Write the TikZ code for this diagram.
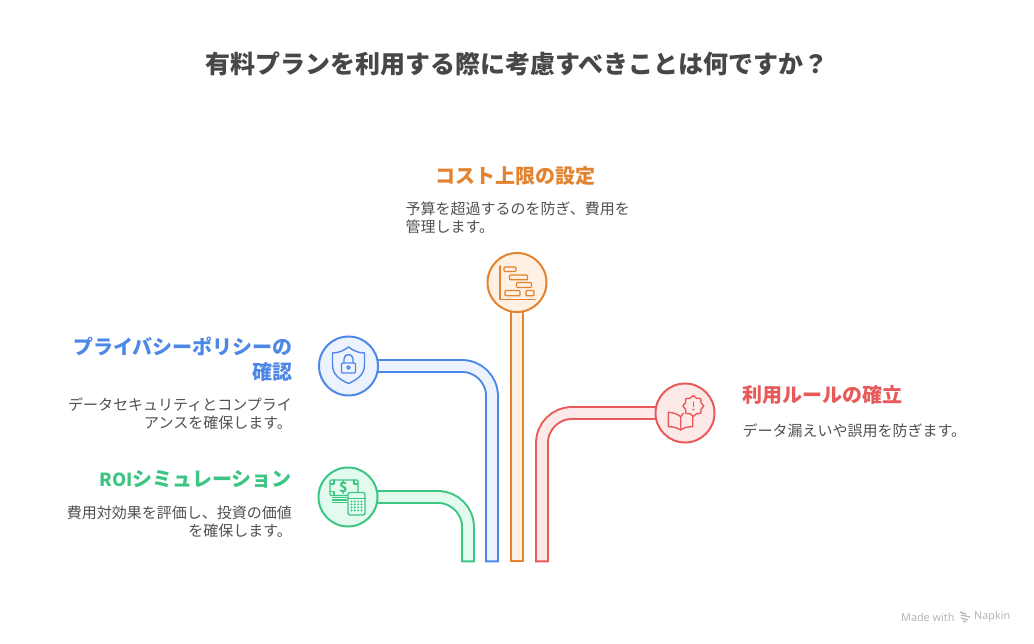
\documentclass[tikz,border=0pt]{standalone}
\usepackage{fontspec}
\setmainfont{Noto Sans CJK JP}
\newfontfamily\footfont{Noto Sans}
\usetikzlibrary{backgrounds,shapes.geometric}
\definecolor{bluefg}{HTML}{4E88E7}
\definecolor{bluebg}{HTML}{EDF3FE}
\definecolor{greenfg}{HTML}{3CC583}
\definecolor{greenbg}{HTML}{E3FBEF}
\definecolor{orangefg}{HTML}{E38330}
\definecolor{orangebg}{HTML}{FEF0E3}
\definecolor{redfg}{HTML}{E85A5A}
\definecolor{redbg}{HTML}{FEE9E9}
\definecolor{titlegray}{HTML}{474747}
\definecolor{bodygray}{HTML}{505050}
\definecolor{footgray}{HTML}{B5B5B5}
\tikzset{
	hub/.style 2 args={circle,draw=#1,fill=#2,line width=2pt,minimum size=59pt,inner sep=0pt},
	pipe/.style 2 args={draw=#1,double=#2,line width=2pt,double distance=9.8pt,line cap=rect,rounded corners=30pt},
	headtext/.style={inner sep=0pt,font=\fontsize{20}{25}\selectfont\bfseries},
	bodytext/.style={inner sep=0pt,text=bodygray,font=\fontsize{15}{18}\selectfont},
	glyph/.style={line width=1.4pt,line join=round,line cap=round}
}
\begin{document}
\begin{tikzpicture}[x=1pt,y=-1pt]
	\useasboundingbox (0,0) rectangle (1034,644);

	\node[inner sep=0pt,text=titlegray,font=\fontsize{25}{30}\selectfont\bfseries] (title) at (517,64) {有料プランを利用する際に考慮すべきことは何ですか？};

	\node[hub={bluefg}{bluebg}] (blueicon) at (348.5,366) {};
	\node[hub={greenfg}{greenbg}] (greenicon) at (348,497) {};
	\node[hub={orangefg}{orangebg}] (orangeicon) at (517,282.5) {};
	\node[hub={redfg}{redbg}] (redicon) at (685,413) {};

	\coordinate (blueend) at (492,555.5);
	\coordinate (greenend) at (468,555.5);
	\coordinate (orangeend) at (517,555.5);
	\coordinate (redend) at (542,555.5);

	\begin{pgfonlayer}{background}
		\draw[pipe={bluefg}{bluebg}] (blueicon) -| (blueend);
		\draw[pipe={greenfg}{greenbg}] (greenicon) -| (greenend);
		\draw[pipe={orangefg}{orangebg}] (orangeicon) -- (orangeend);
		\draw[pipe={redfg}{redbg}] (redicon) -| (redend);
	\end{pgfonlayer}

	\node[headtext,text=orangefg,anchor=center] (orangehead) at (515,176) {コスト上限の設定};
	\node[bodytext,anchor=west,align=left] (orangebody) at (405.5,217.5) {予算を超過するのを防ぎ、費用を\\管理します。};
	\node[headtext,text=bluefg,anchor=east,align=right] (bluehead) at (293,359.5) {プライバシーポリシーの\\確認};
	\node[bodytext,anchor=east,align=right] (bluebody) at (292,413.5) {データセキュリティとコンプライ\\アンスを確保します。};
	\node[headtext,text=greenfg,anchor=east] (greenhead) at (292,479) {{\fontsize{18}{25}\selectfont ROI}シミュレーション};
	\node[bodytext,anchor=east,align=right] (greenbody) at (292,521.5) {費用対効果を評価し、投資の価値\\を確保します。};
	\node[headtext,text=redfg,anchor=west] (redhead) at (742,395) {利用ルールの確立};
	\node[bodytext,anchor=west] (redbody) at (742.5,431) {データ漏えいや誤用を防ぎます。};

	\begin{scope}[shift={(blueicon.center)},draw=bluefg,glyph]
		\draw (-16,-13) .. controls (-9,-13) and (-4,-16) .. (0,-19) .. controls (4,-16) and (9,-13) .. (16,-13) -- (16,-1) .. controls (16,9) and (8,14) .. (0,17.5) .. controls (-8,14) and (-16,9) .. (-16,-1) -- cycle;
		\draw[rounded corners=1pt] (-7,-3) rectangle (7,7);
		\draw (-4.5,-3) -- (-4.5,-7) .. controls (-4.5,-13) and (4.5,-13) .. (4.5,-7) -- (4.5,-3);
		\draw (0,1.5) circle (1.7pt);
	\end{scope}

	\begin{scope}[shift={(orangeicon.center)},draw=orangefg,glyph]
		\draw (-17,-16.5) -- (-17,17) -- (18,17);
		\draw[rounded corners=1pt] (-13,-15.5) rectangle (-1,-11);
		\draw[rounded corners=1pt] (-7.5,-7.5) rectangle (10.5,-2.7);
		\draw[rounded corners=1pt] (-0.5,0) rectangle (14.5,5);
		\draw[rounded corners=1pt] (-12,8) rectangle (3,13.3);
		\draw[rounded corners=1pt] (9,8) rectangle (17,13.3);
	\end{scope}

	\begin{scope}[shift={(greenicon.center)},draw=greenfg,glyph]
		\draw[rounded corners=1pt] (-18,-17) rectangle (10,-1.5);
		\draw (-18,-13) -- (-14,-13) -- (-14,-17) (6,-17) -- (6,-13) -- (10,-13) (-18,-5.5) -- (-14,-5.5) -- (-14,-1.5);
		\node[inner sep=0pt,text=greenfg,font=\fontsize{14}{14}\selectfont\bfseries] (greendollar) at (-4.5,-9.5) {\$};
		\draw (-15.5,0.7) -- (-1.5,0.7) (-15.5,3) -- (-1.5,3) (-15.5,5.3) -- (-1.5,5.3);
		\draw[fill=greenbg,rounded corners=2pt] (0,-4.5) rectangle (17,18);
		\draw (0,1.5) -- (17,1.5);
		\foreach \keyx in {3.5,6.8,10.1,13.4}
			\foreach \keyy in {4.5,7.5,10.5,13.5}
				\fill[greenfg] (\keyx,\keyy) circle (1.1pt);
	\end{scope}

	\begin{scope}[shift={(redicon.center)},draw=redfg,glyph]
		\draw (-4.3,3.7) .. controls (-8,0.5) and (-13,-0.5) .. (-16.7,-0.7) -- (-16.7,13.7) .. controls (-12,13.7) and (-8,14.5) .. (-4.3,17) .. controls (-1,14.5) and (3,13.7) .. (7.7,13.7) -- (7.7,3.7);
		\draw (-4.3,3.7) -- (-4.3,17) (-4.3,3.7) -- (-1.7,0.3);
		\node[star,star points=8,star point ratio=1.25,draw=redfg,line width=1.4pt,fill=redbg,minimum size=21pt,inner sep=0pt] (redbadge) at (8.3,-7) {};
		\draw (8.3,-11) -- (8.3,-6.5);
		\fill[redfg] (8.3,-3.4) circle (1.1pt);
	\end{scope}

	\node[inner sep=0pt,anchor=west,text=footgray,font=\footfont\fontsize{10.8}{12}\selectfont] (madewith) at (901,617) {Made with};
	\node[inner sep=0pt,anchor=west,text=footgray,font=\footfont\fontsize{10.8}{12}\selectfont] (napkin) at (974,617) {Napkin};
	\draw[footgray,line width=1.3pt] (960,612) -- (966,614) (961,615) -- (970,617) (961,618) -- (968,620) (963,621) -- (966,622);
\end{tikzpicture}
\end{document}
